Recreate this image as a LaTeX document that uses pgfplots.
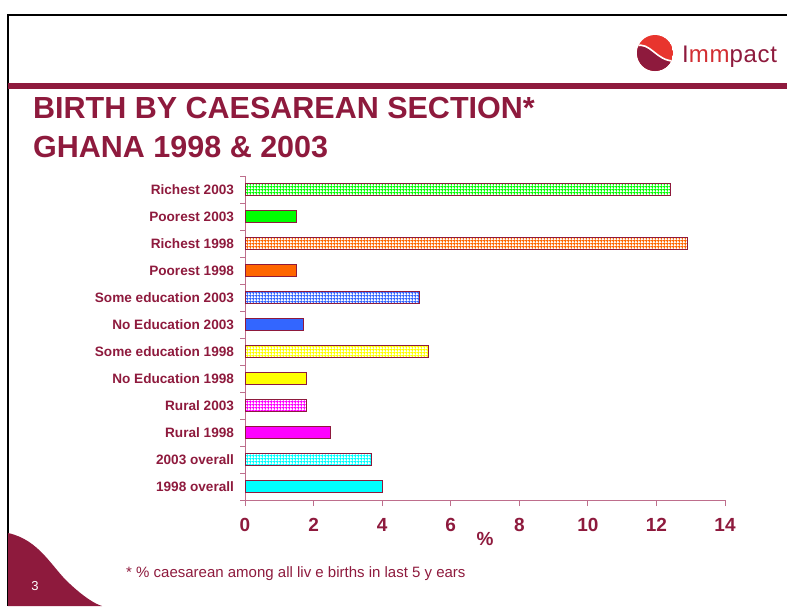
\documentclass[border=0pt]{standalone}
\usepackage{fontspec}
\setmainfont{Liberation Sans}
\usepackage{pgfplots}
\pgfplotsset{compat=1.18}
\usetikzlibrary{patterns.meta}
\definecolor{maroon}{RGB}{142,26,61}
\definecolor{axiscol}{RGB}{190,110,140}
\definecolor{logored}{RGB}{232,53,46}
\definecolor{cgreen}{RGB}{0,255,0}
\definecolor{corange}{RGB}{255,102,0}
\definecolor{cblue}{RGB}{51,102,255}
\definecolor{cyellow}{RGB}{255,255,0}
\definecolor{cmagenta}{RGB}{255,0,255}
\definecolor{ccyan}{RGB}{0,255,255}
\tikzdeclarepattern{
  name=fgrid, type=uncolored,
  bounding box={(0,0) and (3.2pt,3.2pt)},
  tile size={(3.2pt,3.2pt)},
  code={\draw[line width=1.2pt] (0,1.6pt) -- (3.2pt,1.6pt) (1.6pt,0) -- (1.6pt,3.2pt);}
}
\pgfplotsset{
  solidbar/.style={xbar, bar shift=0pt, bar width=11.5pt, draw=maroon, line width=0.8pt, fill=#1},
  patbar/.style={xbar, bar shift=0pt, bar width=11.5pt, draw=maroon, line width=0.8pt, pattern=fgrid, pattern color=#1},
}
\begin{document}
\begin{tikzpicture}
\useasboundingbox (0,0) rectangle (787pt,-606pt);
% slide frame
\draw[line width=1.8pt] (8pt,-606pt) -- (8pt,-15pt) -- (787pt,-15pt);
\fill[maroon] (8pt,-83pt) rectangle (787pt,-89pt);
\fill[maroon] (8pt,-533pt) .. controls (40pt,-540pt) and (52pt,-568pt) .. (70pt,-584pt)
  .. controls (84pt,-597pt) and (95pt,-604pt) .. (102pt,-606pt) -- (8pt,-606pt) -- cycle;
\node[white, font=\fontsize{13}{15}\selectfont] at (35pt,-586pt) {3};
% logo
\begin{scope}
\clip (655pt,-53pt) circle (18pt);
\fill[logored] (655pt,-53pt) circle (18pt);
\fill[maroon] (636pt,-47pt) .. controls (650pt,-42pt) and (656pt,-62pt) .. (674pt,-62pt) -- (674pt,-73pt) -- (636pt,-73pt) -- cycle;
\draw[white, line width=1.6pt] (636pt,-46pt) .. controls (650pt,-41pt) and (656pt,-61pt) .. (674pt,-61pt);
\end{scope}
\node[anchor=base west, inner sep=0pt, font=\fontsize{24}{26}\selectfont\addfontfeature{LetterSpace=3}] at (682pt,-62pt)
  {\textcolor{maroon}{I}\textcolor{logored!75!maroon}{mm}\textcolor{maroon}{pact}};
% title
\node[anchor=base west, inner sep=0pt, text=maroon, font=\fontsize{30.5}{36}\selectfont\bfseries] at (33pt,-118pt) {BIRTH BY CAESAREAN SECTION*};
\node[anchor=base west, inner sep=0pt, text=maroon, font=\fontsize{30.5}{36}\selectfont\bfseries] at (33pt,-157pt) {GHANA 1998 \& 2003};
% footnote
\node[anchor=base west, inner sep=0pt, text=maroon, font=\fontsize{15}{17}\selectfont] at (126pt,-577pt) {* \% caesarean among all liv e births in last 5 y ears};
\node[text=maroon, font=\fontsize{19}{21}\selectfont\bfseries] at (485pt,-539pt) {\%};
\begin{axis}[
  at={(245pt,-500pt)}, anchor=south west,
  scale only axis, width=480pt, height=324pt,
  xmin=0, xmax=14, ymin=0.5, ymax=12.5,
  clip=false,
  axis x line=bottom, axis y line=left,
  axis line style={-, draw=axiscol, line width=1pt},
  xtick={0,2,...,14},
  ytick={1,...,12},
  yticklabels={1998 overall, 2003 overall, Rural 1998, Rural 2003, No Education 1998, Some education 1998, No Education 2003, Some education 2003\hspace{3pt}, Poorest 1998, Richest 1998, Poorest 2003, Richest 2003},
  minor ytick={0.5,1.5,...,12.5},
  tick align=outside,
  major tick length=6pt, minor tick length=5pt,
  major y tick style={draw=none},
  minor y tick style={draw=axiscol, line width=1pt},
  major x tick style={draw=axiscol, line width=1pt},
  /pgf/number format/assume math mode=true,
  yticklabel style={font=\fontsize{13.6}{15}\selectfont\bfseries, text=maroon, xshift=-1.5pt},
  xticklabel style={font=\fontsize{19}{21}\selectfont\bfseries, text=maroon, yshift=-9pt},
]
\addplot[patbar=cgreen]   coordinates {(12.4,12)};
\addplot[solidbar=cgreen] coordinates {(1.5,11)};
\addplot[patbar=corange]  coordinates {(12.9,10)};
\addplot[solidbar=corange] coordinates {(1.5,9)};
\addplot[patbar=cblue]    coordinates {(5.1,8)};
\addplot[solidbar=cblue]  coordinates {(1.7,7)};
\addplot[patbar=cyellow]  coordinates {(5.35,6)};
\addplot[solidbar=cyellow] coordinates {(1.8,5)};
\addplot[patbar=cmagenta] coordinates {(1.8,4)};
\addplot[solidbar=cmagenta] coordinates {(2.5,3)};
\addplot[patbar=ccyan]    coordinates {(3.7,2)};
\addplot[solidbar=ccyan]  coordinates {(4.0,1)};
\end{axis}
\end{tikzpicture}
\end{document}
